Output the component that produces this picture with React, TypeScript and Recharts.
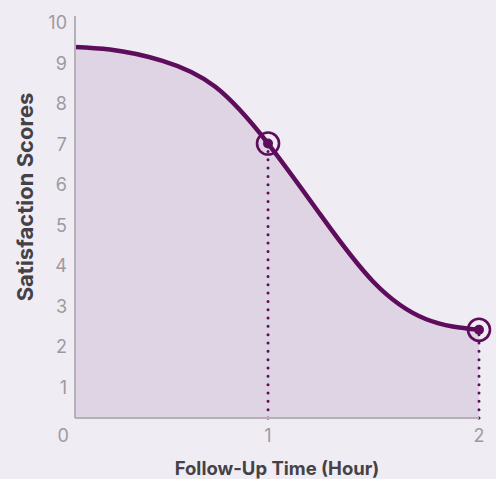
import React from 'react';
import { ComposedChart, Area, Line, XAxis, YAxis, ReferenceLine, ReferenceDot } from 'recharts';

// Follow-up time (hours) and satisfaction scores
const times = [0, 0.25, 0.5, 0.75, 1, 1.25, 1.5, 1.75, 2];
const scores = [9.42, 9.34, 9.06, 8.42, 7.02, 5.25, 3.6, 2.68, 2.42];
// Highlighted observations
const markedTimes = [1, 2];
const markedScores = [7.02, 2.42];
// Tick labels
const xTicks = [0, 1, 2];
const yTicks = [1, 2, 3, 4, 5, 6, 7, 8, 9, 10];

const X_DOMAIN: [number, number] = [0.085, 2];
const Y_DOMAIN: [number, number] = [0.24, 10.17];

const BG = '#f0ecf3';
const PURPLE = '#5e0c5c';
const FILL = '#dfd4e3';
const AXIS = '#b3b0b6';
const TICK = '#9d9a9f';
const TITLE = '#444246';
const FONT = 'Inter, "Noto Sans", sans-serif';

const data = times.map((t, i) => ({ time: t, score: scores[i] }));

const Marker = (props: any) => {
  const { cx, cy } = props;
  if (cx == null || cy == null) return <g />;
  return (
    <g>
      <circle cx={cx} cy={cy} r={11} fill="none" stroke={PURPLE} strokeWidth={2.6} />
      <circle cx={cx} cy={cy} r={5} fill={PURPLE} />
    </g>
  );
};

const XTick = (props: any) => {
  const { x, y, payload } = props;
  const shift = payload.value === 0 ? 6 : 0;
  return (
    <text
      x={x + shift}
      y={y}
      dy="0.71em"
      textAnchor="middle"
      fill={TICK}
      fontSize={18}
      fontFamily={FONT}
    >
      {payload.value}
    </text>
  );
};

export default function App() {
  return (
    <div style={{ position: 'fixed', left: 0, top: 0, width: 496, height: 479, background: BG }}>
      <ComposedChart
        width={496}
        height={479}
        data={data}
        margin={{ top: 16, right: 17, bottom: 0, left: 0 }}
      >
        <XAxis
          dataKey="time"
          type="number"
          domain={X_DOMAIN}
          allowDataOverflow
          ticks={xTicks}
          interval={0}
          tickLine={false}
          tickSize={6}
          tickMargin={5}
          height={61}
          axisLine={{ stroke: AXIS, strokeWidth: 2 }}
          tick={<XTick />}
          label={{
            content: (p: any) => {
              const vb = p.viewBox || {};
              return (
                <text
                  x={vb.x + vb.width / 2}
                  y={475}
                  textAnchor="middle"
                  fill={TITLE}
                  fontSize={18.5}
                  fontWeight={700}
                  fontFamily={FONT}
                >
                  Follow-Up Time (Hour)
                </text>
              );
            },
          }}
        />
        <YAxis
          type="number"
          domain={Y_DOMAIN}
          allowDataOverflow
          ticks={yTicks}
          interval={0}
          tickLine={false}
          tickSize={6}
          tickMargin={2}
          width={75}
          axisLine={{ stroke: AXIS, strokeWidth: 2 }}
          tick={{ fill: TICK, fontSize: 18, fontFamily: FONT }}
          label={{
            content: () => (
              <text
                x={25}
                y={197}
                transform="rotate(-90 25 197)"
                textAnchor="middle"
                dominantBaseline="central"
                fill={TITLE}
                fontSize={22}
                fontWeight={700}
                fontFamily={FONT}
              >
                Satisfaction Scores
              </text>
            ),
          }}
        />
        <Area
          dataKey="score"
          type="natural"
          fill={FILL}
          fillOpacity={1}
          stroke="none"
          isAnimationActive={false}
          activeDot={false}
        />
        {markedTimes.map((t, i) => (
          <ReferenceLine
            key={'rl' + t}
            segment={[
              { x: t, y: Y_DOMAIN[0] },
              { x: t, y: markedScores[i] },
            ]}
            stroke={PURPLE}
            strokeWidth={3}
            strokeDasharray="0 8.33"
            strokeLinecap="round"
          />
        ))}
        <Line
          dataKey="score"
          type="natural"
          stroke={PURPLE}
          strokeWidth={4.5}
          dot={false}
          activeDot={false}
          isAnimationActive={false}
        />
        {markedTimes.map((t, i) => (
          <ReferenceDot
            key={'rd' + t}
            x={t}
            y={markedScores[i]}
            r={11}
            shape={Marker}
            ifOverflow="visible"
          />
        ))}
      </ComposedChart>
    </div>
  );
}
